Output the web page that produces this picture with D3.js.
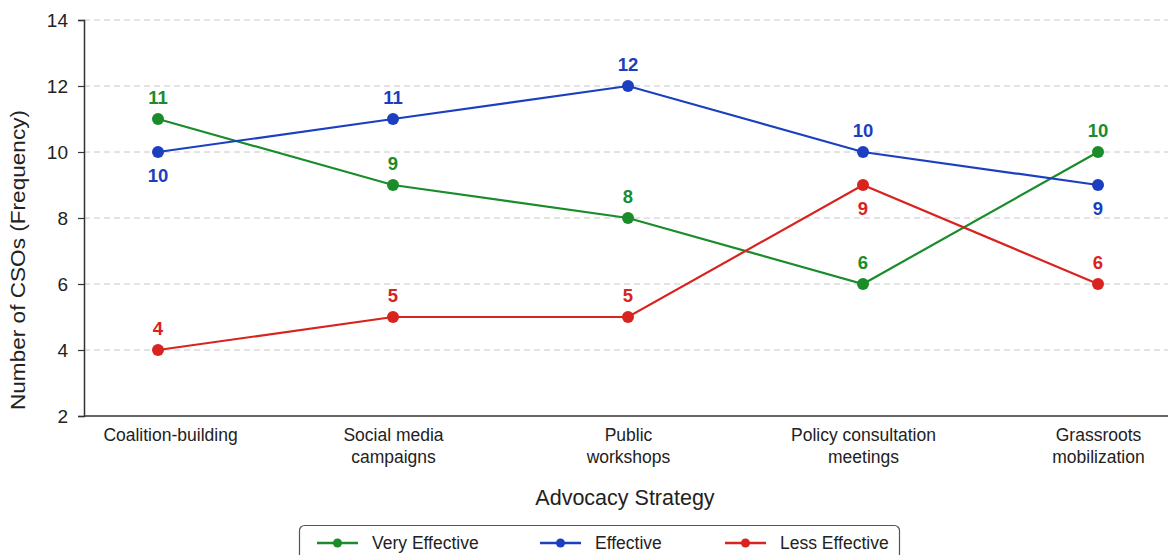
<!DOCTYPE html>
<html><head><meta charset="utf-8">
<script src="https://cdn.jsdelivr.net/npm/d3@7"></script>
<style>body{margin:0;background:#fff;font-family:"Liberation Sans",Arial,sans-serif;}svg{display:block}</style>
</head><body><svg id="c" width="1168" height="555"></svg>
<script>
const categories = ["Coalition-building","Social media campaigns","Public workshops","Policy consultation meetings","Grassroots mobilization"];
const categoryLines = [["Coalition-building"],["Social media","campaigns"],["Public","workshops"],["Policy consultation","meetings"],["Grassroots","mobilization"]];
const seriesNames = ["Very Effective","Effective","Less Effective"];
const veryEffective = [11,9,8,6,10];
const effective = [10,11,12,10,9];
const lessEffective = [4,5,5,9,6];
const labelBelow = [[false,false,false,false,false],[true,false,false,false,true],[false,false,false,true,false]];
const yTicks = [2,4,6,8,10,12,14];
const colors = ["#1a8c2a","#1b3fc0","#d8231f"];

const FONT = "Liberation Sans, Arial, sans-serif";
const svg = d3.select("#c");
const L=84, R=1168, T=20, B=416;
const x = d3.scalePoint().domain(categories).range([158,1098]).padding(0);
const y = d3.scaleLinear().domain([2,14]).range([B,T]);

// grid
svg.append("g").selectAll("line").data(yTicks.slice(1)).join("line")
  .attr("x1",L).attr("x2",R).attr("y1",d=>y(d)).attr("y2",d=>y(d))
  .attr("stroke","#c8c8c8").attr("stroke-width",1).attr("stroke-dasharray","6,4");

// y axis
const ya = svg.append("g").attr("transform",`translate(${L},0)`)
  .call(d3.axisLeft(y).tickValues(yTicks).tickSize(6).tickPadding(10));
ya.select(".domain").attr("stroke","#333").attr("stroke-width",1.5);
ya.selectAll(".tick line").attr("stroke","#333").attr("stroke-width",1.2);
ya.selectAll("text").attr("font-size",19).attr("fill","#222").attr("font-family",FONT);

// x axis
const xa = svg.append("g").attr("transform",`translate(0,${B})`)
  .call(d3.axisBottom(x).tickSize(0).tickPadding(0).tickFormat(""));
xa.select(".domain").remove();
xa.append("line").attr("x1",L).attr("x2",R).attr("y1",0).attr("y2",0)
  .attr("stroke","#333").attr("stroke-width",1.5);
xa.selectAll(".tick").each(function(d,i){
  const t = d3.select(this).append("text").attr("fill","#222").attr("font-size",17.5)
    .attr("text-anchor","middle").attr("font-family",FONT)
    .attr("transform", i===0 ? "translate(12,0)" : null);
  categoryLines[i].forEach((s,j)=>t.append("tspan").attr("x",0).attr("y",25+j*21.5).text(s));
});

// axis titles
svg.append("text").attr("x",625).attr("y",505).attr("text-anchor","middle")
  .attr("font-size",21.5).attr("fill","#222").attr("font-family",FONT).text("Advocacy Strategy");
svg.append("text").attr("transform",`translate(25,260) rotate(-90)`).attr("text-anchor","middle")
  .attr("font-size",21).attr("fill","#222").attr("font-family",FONT)
  .attr("textLength",300).attr("lengthAdjust","spacingAndGlyphs")
  .text("Number of CSOs (Frequency)");

// series
const allSeries = [veryEffective,effective,lessEffective];
const line = d3.line().x((d,i)=>x(categories[i])).y(d=>y(d));
allSeries.forEach((vals,si)=>{
  const g = svg.append("g");
  g.append("path").datum(vals).attr("d",line).attr("fill","none")
    .attr("stroke",colors[si]).attr("stroke-width",2.2);
  g.selectAll("circle").data(vals).join("circle")
    .attr("cx",(d,i)=>x(categories[i])).attr("cy",d=>y(d)).attr("r",6).attr("fill",colors[si]);
  g.selectAll("text").data(vals).join("text")
    .attr("x",(d,i)=>x(categories[i]))
    .attr("y",(d,i)=>y(d)+(labelBelow[si][i]?30:-15))
    .attr("text-anchor","middle").attr("font-size",18.5).attr("font-weight","bold")
    .attr("font-family",FONT).attr("fill",colors[si]).text(d=>d);
});

// legend
const lg = svg.append("g");
lg.append("rect").attr("x",299.5).attr("y",525.5).attr("width",600).attr("height",40).attr("rx",5)
  .attr("fill","#fff").attr("stroke","#555").attr("stroke-width",1.2);
const lx = [317,540,725];
seriesNames.forEach((n,i)=>{
  lg.append("line").attr("x1",lx[i]).attr("x2",lx[i]+41).attr("y1",543).attr("y2",543)
    .attr("stroke",colors[i]).attr("stroke-width",2.4);
  lg.append("circle").attr("cx",lx[i]+20.5).attr("cy",543).attr("r",4.5).attr("fill",colors[i]);
  lg.append("text").attr("x",lx[i]+55).attr("y",549).attr("font-size",17.5).attr("fill","#222")
    .attr("font-family",FONT).text(n);
});
</script></body></html>
